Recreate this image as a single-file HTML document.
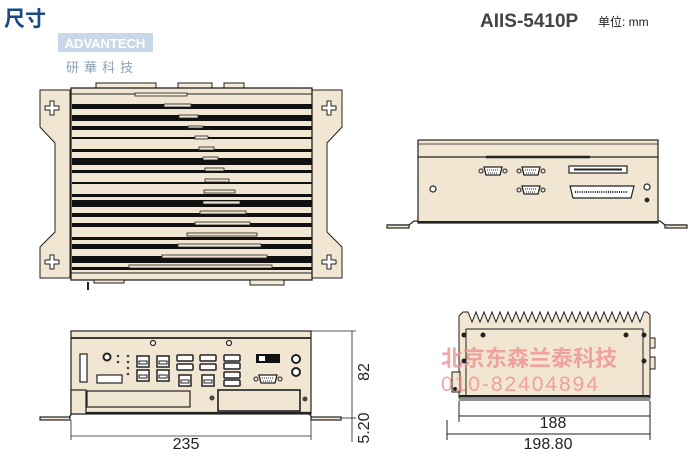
<!DOCTYPE html>
<html><head><meta charset="utf-8"><style>
html,body{margin:0;padding:0;background:#fff;width:700px;height:462px;overflow:hidden}
svg{display:block}
text{font-family:"Liberation Sans","Noto Sans CJK SC",sans-serif}
</style></head><body>
<svg width="700" height="462" viewBox="0 0 700 462" xmlns="http://www.w3.org/2000/svg">
<defs>
<g id="db9"><path d="M-9,-4 h18 l-2,8 h-14 z" fill="#fff" stroke="#222" stroke-width="1.3"/><circle cx="-12" cy="0" r="2" fill="none" stroke="#222"/><circle cx="12" cy="0" r="2" fill="none" stroke="#222"/><line x1="-6" y1="-1" x2="6" y2="-1" stroke="#222" stroke-dasharray="1 1"/><line x1="-5" y1="2" x2="5" y2="2" stroke="#222" stroke-dasharray="1 1"/></g>
<g id="cross"><path d="M-2,-7 h4 v5 h5 v4 h-5 v5 h-4 v-5 h-5 v-4 h5 z" fill="#fff" stroke="#222" stroke-width="1" stroke-linejoin="round"/></g>
<g id="rj"><rect x="-6" y="-6" width="12" height="11" fill="#fff" stroke="#222" stroke-width="1.5"/><path d="M-4,-1 h8 v3 h-8z" fill="none" stroke="#222"/></g>
<g id="usb"><rect x="-8" y="-3" width="16" height="6" rx="1" fill="#fff" stroke="#222" stroke-width="1.5"/></g>
</defs>

<!-- Header -->
<text x="4" y="26" font-size="21" font-weight="bold" fill="#174a86">尺寸</text>
<rect x="58" y="33" width="95" height="19" fill="#c9d8e8"/>
<text x="105" y="48" font-size="13" font-weight="bold" fill="#fff" text-anchor="middle">ADVANTECH</text>
<text x="66" y="72" font-size="13" fill="#8aa2ba" letter-spacing="5">研華科技</text>
<text x="480" y="27" font-size="19" font-weight="bold" fill="#444">AIIS-5410P</text>
<text x="598" y="26" font-size="12" fill="#222">单位: mm</text>

<!-- TOP VIEW -->
<g stroke="#222" stroke-width="1">
<rect x="96" y="83" width="60" height="5" fill="#f3ead8"/>
<rect x="178" y="83" width="34" height="5" fill="#f3ead8"/>
<rect x="224" y="83" width="20" height="5" fill="#f3ead8"/>
<path d="M40,90 h30 v188 h-30 v-31 l15,-15 v-89 l-15,-16 z" fill="#f0e6d2"/>
<path d="M342,90 h-30 v188 h30 v-31 l-15,-15 v-89 l15,-16 z" fill="#f0e6d2"/>
<rect x="71" y="88" width="241" height="192" fill="#f0e6d2" stroke-width="1.3"/>
<line x1="71" y1="94" x2="312" y2="94"/>
<line x1="71" y1="273" x2="312" y2="273"/>
<rect x="250" y="280" width="34" height="5" fill="#f3ead8"/>
<rect x="94" y="280" width="30" height="3" fill="#f3ead8"/>
</g>
<use href="#cross" x="52" y="108"/><use href="#cross" x="52" y="262"/>
<use href="#cross" x="329" y="108"/><use href="#cross" x="329" y="262"/>
<line x1="88" y1="282" x2="88" y2="290" stroke="#222" stroke-width="2"/>
<g fill="#111">
<rect x="72" y="104" width="240" height="5"/><rect x="72" y="115" width="240" height="6"/>
<rect x="72" y="126" width="240" height="4"/><rect x="72" y="137" width="240" height="2"/>
<rect x="72" y="149" width="240" height="3"/><rect x="72" y="158" width="240" height="7"/>
<rect x="72" y="170" width="240" height="3"/><rect x="72" y="182" width="240" height="2"/>
<rect x="72" y="194" width="240" height="3"/><rect x="72" y="200" width="240" height="7"/>
<rect x="72" y="213" width="240" height="4"/><rect x="72" y="223" width="240" height="4"/>
<rect x="72" y="237" width="240" height="3"/><rect x="72" y="244" width="240" height="5"/>
<rect x="72" y="256" width="240" height="7"/><rect x="72" y="267" width="240" height="3"/>
</g>
<g fill="#f0e6d2" stroke="#222" stroke-width="0.8">
<rect x="135" y="93" width="52" height="3"/><rect x="164" y="104" width="27" height="3"/>
<rect x="179" y="115" width="19" height="3"/><rect x="188" y="126" width="15" height="2"/>
<rect x="195" y="136" width="13" height="3"/><rect x="199" y="147" width="15" height="3"/>
<rect x="203" y="157" width="15" height="3"/><rect x="205" y="168" width="19" height="3"/>
<rect x="205" y="179" width="24" height="3"/><rect x="204" y="190" width="31" height="3"/>
<rect x="203" y="201" width="37" height="3"/><rect x="200" y="211" width="46" height="3"/>
<rect x="195" y="222" width="55" height="3"/><rect x="187" y="233" width="70" height="3"/>
<rect x="178" y="244" width="83" height="3"/><rect x="162" y="255" width="105" height="3"/>
<rect x="129" y="265" width="143" height="3"/>
</g>

<!-- FRONT (top right) -->
<g stroke="#222" stroke-width="1.2">
<path d="M387,225 h22 l5,-4 h4 M687,225 h-22 l-5,-4 h-4" fill="none"/>
<rect x="387" y="225" width="22" height="3" fill="#f0e6d2"/>
<rect x="665" y="225" width="22" height="3" fill="#f0e6d2"/>
<rect x="418" y="140" width="240" height="83" fill="#f0e6d2"/>
<line x1="418" y1="144" x2="658" y2="144" stroke-width="0.8"/>
<line x1="418" y1="157" x2="658" y2="157"/>
<line x1="486" y1="157" x2="590" y2="157" stroke-width="2.5"/>
<line x1="418" y1="222" x2="658" y2="222" stroke-width="2"/>
<circle cx="433" cy="189" r="3" fill="#fff"/>
<rect x="569" y="166" width="58" height="7" fill="#fff"/>
<line x1="574" y1="169.5" x2="622" y2="169.5" stroke-width="2"/>
<path d="M570,186 h64 l-3,12 h-58 z" fill="#fff"/>
<line x1="575" y1="192" x2="628" y2="192" stroke-dasharray="1 1.2" stroke-width="2"/>
<circle cx="647" cy="187" r="3" fill="#fff"/>
<circle cx="647" cy="200" r="1.8" fill="#333"/>
</g>
<use href="#db9" x="493" y="171"/><use href="#db9" x="531" y="171"/><use href="#db9" x="531" y="190"/>

<!-- REAR (bottom left) -->
<g stroke="#222" stroke-width="1.2">
<path d="M40,418 h28 l5,-5 M341,418 h-28 l-5,-5" fill="none"/>
<rect x="40" y="417" width="30" height="3" fill="#f0e6d2"/>
<rect x="311" y="417" width="30" height="3" fill="#f0e6d2"/>
<rect x="71" y="331" width="240" height="83" fill="#f0e6d2"/>
<line x1="71" y1="338" x2="311" y2="338" stroke-width="1.8"/>
<line x1="71" y1="413" x2="311" y2="413" stroke-width="2.2"/>
<rect x="71" y="390" width="15" height="24" fill="#f0e6d2"/>
<rect x="87" y="391" width="103" height="16" fill="#f0e6d2"/>
<rect x="218" y="390" width="82" height="21" fill="#f0e6d2" stroke-width="1.6"/>
<circle cx="153" cy="343" r="2.5" fill="#fff"/><circle cx="229" cy="343" r="2.5" fill="#fff"/>
<circle cx="107" cy="357" r="3.5" fill="#fff" stroke-width="2"/>
<rect x="80" y="354" width="7" height="28" fill="#fff"/>
<rect x="97" y="375" width="25" height="8" fill="#fff"/>
<circle cx="296" cy="359" r="4" fill="#fff" stroke-width="2"/>
<circle cx="296" cy="372" r="4" fill="#fff" stroke-width="2"/>
</g>
<g fill="#444"><circle cx="118" cy="356" r="1.3"/><circle cx="118" cy="362" r="1.3"/><circle cx="128" cy="356" r="1.3"/><circle cx="128" cy="362" r="1.3"/><circle cx="128" cy="368" r="1.3"/><circle cx="128" cy="374" r="1.3"/>
<circle cx="212" cy="398" r="2.5"/><circle cx="305" cy="399" r="2.5"/></g>
<use href="#rj" x="143" y="362"/><use href="#rj" x="143" y="376"/>
<use href="#rj" x="163" y="362"/><use href="#rj" x="163" y="376"/>
<use href="#usb" x="185" y="358"/><use href="#usb" x="185" y="367"/>
<use href="#usb" x="208" y="358"/><use href="#usb" x="208" y="367"/>
<use href="#rj" x="185" y="381"/><use href="#rj" x="208" y="381"/>
<use href="#usb" x="232" y="358"/><use href="#usb" x="232" y="366"/><use href="#usb" x="232" y="375"/><use href="#usb" x="232" y="383"/>
<rect x="256" y="354" width="24" height="9" fill="#111"/><rect x="259" y="356" width="6" height="5" fill="#fff"/>
<use href="#db9" x="268" y="379"/>
<!-- dims -->
<g stroke="#222" stroke-width="0.8" fill="none">
<line x1="311" y1="331" x2="356" y2="331"/><line x1="341" y1="418" x2="356" y2="418"/>
<line x1="352" y1="331" x2="352" y2="442"/>
<line x1="71" y1="420" x2="71" y2="440"/><line x1="311" y1="420" x2="311" y2="440"/>
<line x1="71" y1="436" x2="311" y2="436"/>
</g>
<text x="186" y="449" font-size="16" text-anchor="middle" fill="#222">235</text>
<text transform="translate(369,372) rotate(-90)" font-size="16" text-anchor="middle" fill="#222">82</text>
<text transform="translate(369,428) rotate(-90)" font-size="16" text-anchor="middle" fill="#222">5.20</text>

<!-- SIDE (bottom right) -->
<g stroke="#222" stroke-width="1">
<path d="M459,398 v-82 l4,-4 h5 l4,10 l4,-10 l4,10 l4,-10 l4,10 l4,-10 l4,10 l4,-10 l4,10 l4,-10 l4,10 l4,-10 l4,10 l4,-10 l4,10 l4,-10 l4,10 l4,-10 l4,10 l4,-10 l4,10 l4,-10 l4,10 l4,-10 l4,10 l4,-10 l4,10 l4,-10 l4,10 l4,-10 l4,10 l4,-10 l4,10 l4,-10 l4,10 l4,-10 l4,10 l4,-10 l4,10 l4,-10 l4,10 l4,-10 l4,10 l4,-10 h3 l3,3 v83 z" fill="#f0e6d2"/>
<rect x="466" y="329" width="177" height="67" fill="#f0e6d2"/>
<line x1="459" y1="396" x2="650" y2="396" stroke-width="2"/>
<line x1="459" y1="400" x2="650" y2="400"/>
<rect x="452" y="372" width="8" height="20" fill="#f0e6d2"/>
<rect x="650" y="338" width="5" height="10" fill="#f0e6d2"/>
<rect x="650" y="357" width="5" height="12" fill="#f0e6d2"/>
<line x1="459" y1="401" x2="459" y2="422"/><line x1="650" y1="401" x2="650" y2="440"/>
<line x1="447" y1="420" x2="447" y2="440"/>
<line x1="459" y1="416" x2="650" y2="416"/>
<line x1="447" y1="434" x2="650" y2="434"/>
</g>
<g fill="#222"><circle cx="464" cy="335" r="2.5"/><circle cx="483" cy="335" r="2.5"/><circle cx="626" cy="335" r="2.5"/><circle cx="644" cy="335" r="2.5"/><circle cx="464" cy="361" r="2.5"/><circle cx="644" cy="361" r="2.5"/><circle cx="455" cy="389" r="2"/></g>
<text x="441" y="366" font-size="22" font-weight="bold" fill="#f08a8a" fill-opacity="0.75" font-family="'Noto Sans CJK SC',sans-serif">北京东森兰泰科技</text>
<text x="441" y="391" font-size="21" fill="#f08a8a" fill-opacity="0.75" font-family="'Liberation Serif',serif" textLength="157" lengthAdjust="spacing">010-82404894</text>
<text x="553" y="428" font-size="16" text-anchor="middle" fill="#222">188</text>
<text x="548" y="449" font-size="16" text-anchor="middle" fill="#222">198.80</text>
</svg>
</body></html>
